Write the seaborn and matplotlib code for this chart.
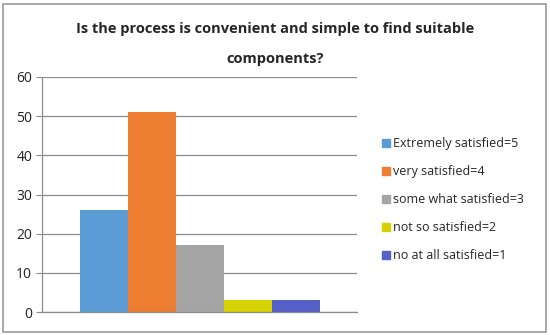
import matplotlib.pyplot as plt
import seaborn as sns
import pandas as pd
from matplotlib.patches import Rectangle

title = 'Is the process is convenient and simple to find suitable\ncomponents?'
labels = ['Extremely satisfied=5', 'very satisfied=4', 'some what satisfied=3',
          'not so satisfied=2', 'no at all satisfied=1']
counts = [26, 51, 17, 3, 3]
colors = ['#5B9BD5', '#ED7D31', '#A5A5A5', '#D6D100', '#5560C8']
yticks = [0, 10, 20, 30, 40, 50, 60]

sns.set_style('white')
plt.rcParams['font.family'] = ['Open Sans', 'DejaVu Sans']

df = pd.DataFrame({'answer': labels, 'count': counts})

fig = plt.figure(figsize=(5.5, 3.35), dpi=100)
ax = fig.add_axes([42 / 550, 1 - 312 / 335, 315 / 550, 235 / 335])

sns.barplot(data=df, x='answer', y='count', hue='answer', palette=colors,
            width=1, dodge=False, legend=False, saturation=1, linewidth=0,
            ax=ax)

ax.set_xlim(-1.29, 5.27)
ax.set_ylim(0, 60)
ax.set_yticks(yticks)
ax.set_xticks([])
ax.set_xlabel('')
ax.set_ylabel('')
ax.grid(axis='y', color='#8c8c8c', linewidth=0.9)
ax.set_axisbelow(True)
for side in ['top', 'right']:
    ax.spines[side].set_visible(False)
for side in ['left', 'bottom']:
    ax.spines[side].set_color('#8c8c8c')
    ax.spines[side].set_linewidth(0.9)
ax.tick_params(axis='y', length=4, color='#8c8c8c', left=True, labelsize=10,
               labelcolor='#222222', pad=3)

handles = [Rectangle((0, 0), 1, 1, color=c) for c in colors]
fig.legend(handles, labels, loc='upper left', bbox_to_anchor=(377 / 550, 1 - 132 / 335),
           frameon=False, fontsize=9, handlelength=0.6, handleheight=0.6,
           handletextpad=0.3, labelspacing=1.2, borderaxespad=0)

fig.text(0.5, 1 - 44 / 335, title, ha='center', va='center', fontsize=10.5,
         fontweight='bold', linespacing=2.4)

fig.patches.append(Rectangle((3 / 550, 3 / 335), 543 / 550, 328 / 335,
                             transform=fig.transFigure, fill=False,
                             edgecolor='#9a9a9a', linewidth=1.2))

fig.savefig('out.png', dpi=100)
